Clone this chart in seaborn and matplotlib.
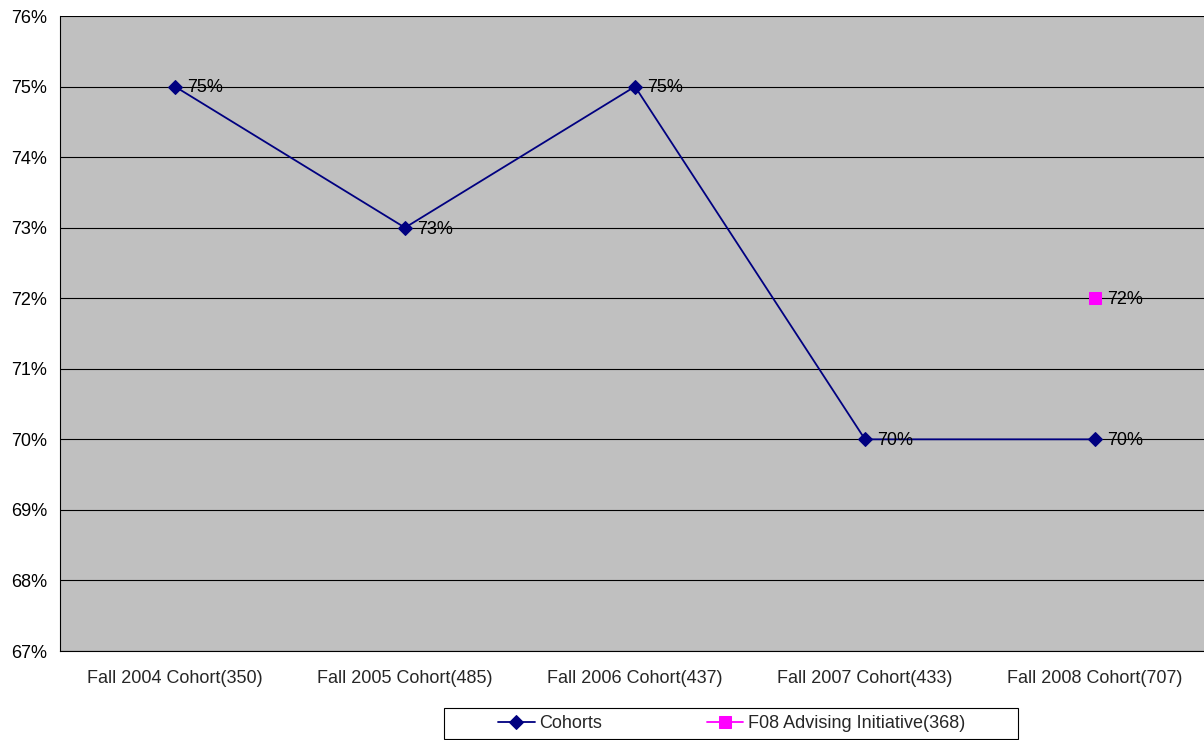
import matplotlib
matplotlib.use("Agg")
import matplotlib.pyplot as plt
import seaborn as sns
import pandas as pd
import numpy as np
from matplotlib.ticker import FixedLocator, FuncFormatter
from matplotlib.patches import Rectangle

categories = ["Fall 2004 Cohort(350)", "Fall 2005 Cohort(485)", "Fall 2006 Cohort(437)",
              "Fall 2007 Cohort(433)", "Fall 2008 Cohort(707)"]
cohorts = [0.75, 0.73, 0.75, 0.70, 0.70]
advising_category = ["Fall 2008 Cohort(707)"]
advising = [0.72]
series_names = ["Cohorts", "F08 Advising Initiative(368)"]

sns.set_theme(style="white")
plt.rcParams['font.family'] = ['Liberation Sans', 'DejaVu Sans']
FS = 13

df = pd.DataFrame({"pos": np.arange(len(categories)), "value": cohorts})
df2 = pd.DataFrame({"pos": [categories.index(c) for c in advising_category], "value": advising})

fig = plt.figure(figsize=(12.04, 7.40), dpi=100)
ax = fig.add_axes([60/1204, 1-651/740, 1150/1204, (651-16)/740])
ax.set_facecolor("#C0C0C0")

sns.lineplot(data=df, x="pos", y="value", ax=ax, color="#000080", marker="D",
             markersize=7, markeredgecolor="#000080", linewidth=1.3, label=series_names[0], zorder=3)
sns.lineplot(data=df2, x="pos", y="value", ax=ax, color="#FF00FF", marker="s",
             markersize=8, markeredgecolor="#FF00FF", linewidth=1.3, label=series_names[1], zorder=3)

for x, v in zip(df["pos"], df["value"]):
    ax.annotate(f"{v*100:.0f}%", (x, v), xytext=(9, -1), textcoords="offset points",
                va="center", ha="left", fontsize=FS, color="black")
for x, v in zip(df2["pos"], df2["value"]):
    ax.annotate(f"{v*100:.0f}%", (x, v), xytext=(9, -1), textcoords="offset points",
                va="center", ha="left", fontsize=FS, color="black")

ax.set_xlim(-0.5, len(categories) - 0.5)
ax.set_ylim(0.67, 0.76)
ax.yaxis.set_major_locator(FixedLocator(np.arange(67, 77) / 100))
ax.yaxis.set_major_formatter(FuncFormatter(lambda v, p: f"{v*100:.0f}%"))
ax.grid(axis="y", color="black", linewidth=0.8)
ax.set_axisbelow(True)

ax.xaxis.set_major_locator(FixedLocator(np.arange(len(categories) + 1) - 0.5))
ax.xaxis.set_major_formatter(FuncFormatter(lambda v, p: ""))
ax.set_xticks(np.arange(len(categories)), labels=categories, minor=True)
ax.tick_params(axis="x", which="minor", length=0, labelsize=FS, pad=14)
ax.tick_params(axis="x", which="major", length=5, width=0.8, direction="out", color="black")
ax.tick_params(axis="y", which="major", length=5, width=0.8, direction="out", color="black",
               labelsize=FS, pad=4)
ax.tick_params(axis="both", colors="black")
ax.set_xlabel("")
ax.set_ylabel("")

for s in ["top", "right"]:
    ax.spines[s].set_visible(False)
for s in ["left", "bottom"]:
    ax.spines[s].set_color("black")
    ax.spines[s].set_linewidth(0.8)

ax.legend_.remove()
handles, labels = ax.get_legend_handles_labels()
leg = fig.legend(handles, labels, loc="center", bbox_to_anchor=(732/1204, 1-724/740),
                 ncol=2, frameon=False, fontsize=FS,
                 columnspacing=5.8, handlelength=2.0, handletextpad=0.28, borderpad=0.2)
fig.patches.append(Rectangle((444/1204, 1-739/740), 574/1204, 31/740, transform=fig.transFigure,
                             fill=False, edgecolor="black", linewidth=0.8))

fig.savefig("out.png", dpi=100)
